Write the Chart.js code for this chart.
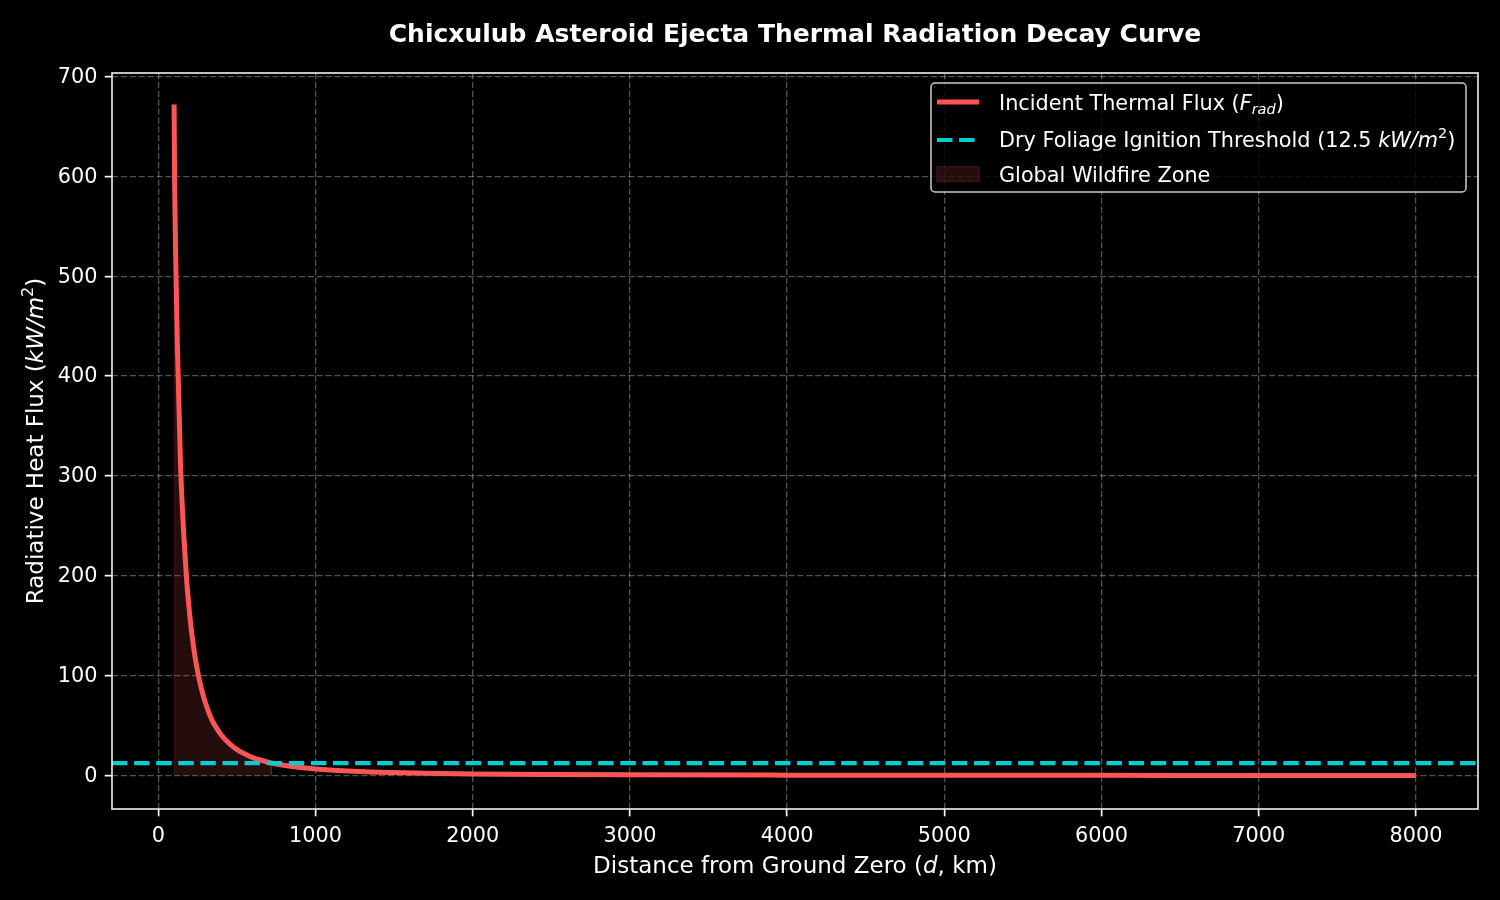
<!DOCTYPE html>
<html>
<head>
<meta charset="utf-8">
<title>Chicxulub Ejecta Thermal Radiation</title>
<script src="https://cdn.jsdelivr.net/npm/chart.js@4.4.1/dist/chart.umd.min.js"></script>
<style>
    html, body { margin: 0; padding: 0; background: #000; }
    #wrap { width: 1500px; height: 900px; position: relative; }
</style>
</head>
<body>
<div id="wrap"><canvas id="chartFlux" width="1500" height="900"></canvas></div>
<script>
// ── Data ────────────────────────────────────────────────────────────────────
var distKm = [100, 103, 110, 121, 140, 176, 200, 229, 255, 282, 314, 346, 389, 420, 452, 500, 559, 600, 665, 718,
              750, 877, 1004, 1200, 1408, 1700, 2000, 2500, 3000, 4000, 5000, 6000, 7000, 8000];
var fluxKw = [672, 600, 520, 430, 315, 205, 160, 123, 100, 82, 66, 54, 43, 37, 32, 26, 21, 18, 14.8, 12.6,
              11.6, 8.5, 6.5, 4.6, 3.4, 2.3, 1.6, 1.05, 0.72, 0.41, 0.26, 0.18, 0.13, 0.10];
var thresholdKw = 12.5;
var zoneEndKm = 718;
var xTicks = [0, 1000, 2000, 3000, 4000, 5000, 6000, 7000, 8000];
var yTicks = [0, 100, 200, 300, 400, 500, 600, 700];
var xRange = [-295, 8395];
var yRange = [-33.5, 703.5];

var FONT = "'DejaVu Sans', sans-serif";
var RED = '#ff5555';
var CYAN = '#00ced1';
var ZONE_FILL = 'rgba(255,85,85,0.15)';

// ── Helpers: texto con cursiva / sub / super ───────────────────────────────
function fontFor(p, size) {
    var s = (p.sub || p.sup) ? size * 0.7 : size;
    return (p.it ? 'italic ' : '') + (p.b ? 'bold ' : '') + s + 'px ' + FONT;
}

function drawRich(ctx, parts, x, y, size, align) {
    var widths = [], total = 0;
    parts.forEach(function (p) {
        ctx.font = fontFor(p, size);
        var w = ctx.measureText(p.t).width;
        widths.push(w);
        total += w;
    });
    var cx = align === 'center' ? x - total / 2 : (align === 'right' ? x - total : x);
    ctx.textAlign = 'left';
    ctx.textBaseline = 'alphabetic';
    parts.forEach(function (p, i) {
        ctx.font = fontFor(p, size);
        var dy = p.sub ? size * 0.22 : (p.sup ? -size * 0.42 : 0);
        ctx.fillText(p.t, cx, y + dy);
        cx += widths[i];
    });
}

var titleParts = [{ t: 'Chicxulub Asteroid Ejecta Thermal Radiation Decay Curve', b: true }];
var xTitleParts = [{ t: 'Distance from Ground Zero (' }, { t: 'd', it: true }, { t: ', km)' }];
var yTitleParts = [{ t: 'Radiative Heat Flux (' }, { t: 'kW/m', it: true }, { t: '2', sup: true }, { t: ')' }];
var legendRows = [
    { parts: [{ t: 'Incident Thermal Flux (' }, { t: 'F', it: true }, { t: 'rad', it: true, sub: true }, { t: ')' }], kind: 'line' },
    { parts: [{ t: 'Dry Foliage Ignition Threshold (12.5 ' }, { t: 'kW/m', it: true }, { t: '2', sup: true }, { t: ')' }], kind: 'dash' },
    { parts: [{ t: 'Global Wildfire Zone' }], kind: 'patch' }
];

// ── Plugin: marco, títulos y leyenda ──────────────────────────────────────
var decorPlugin = {
    id: 'decor',
    beforeDraw: function (chart) {
        var ctx = chart.ctx;
        ctx.save();
        ctx.fillStyle = '#000';
        ctx.fillRect(0, 0, chart.width, chart.height);
        ctx.restore();
    },
    afterDraw: function (chart) {
        var ctx = chart.ctx;
        var a = chart.chartArea;
        ctx.save();

        // spines
        ctx.strokeStyle = '#e8e8e8';
        ctx.lineWidth = 1.67;
        ctx.strokeRect(a.left, a.top, a.right - a.left, a.bottom - a.top);

        ctx.fillStyle = '#fff';
        drawRich(ctx, titleParts, (a.left + a.right) / 2, 41.5, 25, 'center');
        drawRich(ctx, xTitleParts, (a.left + a.right) / 2, 873, 23, 'center');

        ctx.save();
        ctx.translate(43, (a.top + a.bottom) / 2);
        ctx.rotate(-Math.PI / 2);
        drawRich(ctx, yTitleParts, 0, 0, 23, 'center');
        ctx.restore();

        // leyenda
        ctx.beginPath();
        ctx.roundRect(931, 83, 535, 109, 4);
        ctx.fillStyle = 'rgba(0,0,0,0.8)';
        ctx.fill();
        ctx.strokeStyle = '#cccccc';
        ctx.lineWidth = 1.5;
        ctx.stroke();

        var rowY = [102, 140, 174];
        var baseY = [109.5, 147, 181.5];
        legendRows.forEach(function (row, i) {
            var y = rowY[i];
            if (row.kind === 'line') {
                ctx.strokeStyle = RED;
                ctx.lineWidth = 5;
                ctx.setLineDash([]);
                ctx.beginPath();
                ctx.moveTo(937, y); ctx.lineTo(979, y);
                ctx.stroke();
            } else if (row.kind === 'dash') {
                ctx.strokeStyle = CYAN;
                ctx.lineWidth = 4.2;
                ctx.setLineDash([15.4, 6.7]);
                ctx.beginPath();
                ctx.moveTo(937, y); ctx.lineTo(979, y);
                ctx.stroke();
                ctx.setLineDash([]);
            } else {
                ctx.fillStyle = ZONE_FILL;
                ctx.fillRect(937, y - 7.3, 42, 14.6);
                ctx.strokeStyle = 'rgba(255,85,85,0.25)';
                ctx.lineWidth = 1;
                ctx.strokeRect(937, y - 7.3, 42, 14.6);
            }
            ctx.fillStyle = '#fff';
            drawRich(ctx, row.parts, 999, baseY[i], 20.8, 'left');
        });

        ctx.restore();
    }
};

// ── Datasets ───────────────────────────────────────────────────────────────
var curvePts = distKm.map(function (d, i) { return { x: d, y: fluxKw[i] }; });

var zonePts = [{ x: distKm[0], y: 0 }];
distKm.forEach(function (d, i) {
    if (d <= zoneEndKm) zonePts.push({ x: d, y: fluxKw[i] });
});
zonePts.push({ x: zoneEndKm, y: 0 });

var thresholdPts = [{ x: xRange[0], y: thresholdKw }, { x: xRange[1], y: thresholdKw }];

var tickFont = { family: FONT, size: 20.8 };

function axisCfg(range, ticksList, isY) {
    return {
        type: 'linear',
        min: range[0],
        max: range[1],
        afterBuildTicks: function (scale) {
            scale.ticks = ticksList.map(function (v) { return { value: v }; });
        },
        afterFit: function (scale) {
            if (isY) scale.width = 112;
            else scale.height = 91;
        },
        grid: {
            color: 'rgba(255,255,255,0.32)',
            lineWidth: 1.3,
            tickColor: '#ffffff',
            tickWidth: 1.67,
            tickLength: 7.3,
            tickBorderDash: []
        },
        border: { display: false, dash: [6.2, 2.7] },
        ticks: {
            color: '#ffffff',
            font: tickFont,
            padding: isY ? 7.3 : 8.3,
            labelOffset: isY ? 1 : 0,
            maxRotation: 0,
            autoSkip: false,
            callback: function (v) { return String(v); }
        }
    };
}

new Chart(document.getElementById('chartFlux'), {
    type: 'line',
    data: {
        datasets: [
            {
                label: 'Dry Foliage Ignition Threshold',
                data: thresholdPts,
                borderColor: CYAN,
                borderWidth: 4.2,
                borderDash: [15.4, 6.7],
                pointRadius: 0,
                fill: false
            },
            {
                label: 'Incident Thermal Flux',
                data: curvePts,
                borderColor: RED,
                borderWidth: 5,
                pointRadius: 0,
                cubicInterpolationMode: 'monotone',
                fill: false
            },
            {
                label: 'Global Wildfire Zone',
                data: zonePts,
                borderColor: 'rgba(255,85,85,0.2)',
                borderWidth: 1,
                backgroundColor: ZONE_FILL,
                pointRadius: 0,
                tension: 0,
                fill: 'origin'
            }
        ]
    },
    options: {
        responsive: false,
        animation: false,
        layout: { padding: { top: 73, right: 22, left: 0, bottom: 0 } },
        plugins: {
            legend: { display: false },
            tooltip: { enabled: false }
        },
        scales: {
            x: axisCfg(xRange, xTicks, false),
            y: axisCfg(yRange, yTicks, true)
        }
    },
    plugins: [decorPlugin]
});
</script>
</body>
</html>
